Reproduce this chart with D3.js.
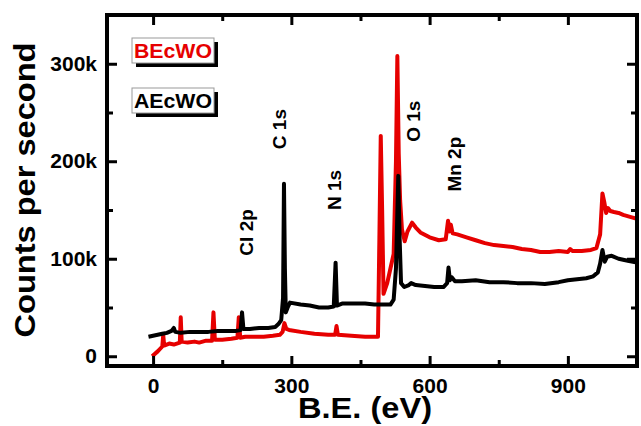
<!DOCTYPE html>
<html>
<head>
<meta charset="utf-8">
<script src="https://cdn.jsdelivr.net/npm/d3@7"></script>
<style>
  body { margin: 0; background: #fff; }
  text { font-family: Arial, "Liberation Sans", sans-serif; font-weight: bold; }
</style>
</head>
<body>
<script>
// B.E. (eV), counts (k) for each survey spectrum
var beBEcWO = [-2, 10, 20, 22, 24, 35, 45, 58, 60, 62, 75, 90, 100, 115, 128, 131, 134, 150, 170, 183, 186, 189, 200, 220, 240, 260, 275, 281, 285, 289, 295, 320, 350, 380, 395, 398, 401, 430, 460, 488, 491, 494, 497, 500, 508, 515, 522, 527, 530, 533, 536, 540, 546, 552, 562, 570, 580, 600, 620, 635, 640, 643, 646, 650, 660, 680, 700, 720, 740, 760, 780, 800, 820, 840, 860, 880, 900, 905, 910, 930, 950, 962, 970, 975, 979, 983, 987, 992, 1000, 1010, 1020, 1035, 1050];
var cpsBEcWO = [0, 5, 10, 22, 11, 13, 12, 14, 40, 15, 14, 15, 14, 16, 16, 45, 17, 17, 18, 19, 40, 19, 20, 20, 20, 21, 22, 25, 34, 28, 27, 25, 23, 22, 22, 31, 22, 21, 20, 20, 120, 226, 150, 64, 75, 90, 105, 200, 308, 208, 160, 130, 118, 128, 137, 132, 127, 122, 119, 120, 139, 128, 135, 126, 125, 122, 119, 116, 114, 113, 112, 110, 109, 107, 107, 108, 107, 110, 108, 108, 109, 111, 125, 167, 158, 147, 152, 149, 148, 147, 145, 143, 141];

var beAEcWO = [-10, 0, 10, 20, 30, 40, 45, 48, 60, 80, 100, 120, 140, 160, 180, 190, 193, 196, 210, 230, 250, 265, 272, 278, 282, 284, 286, 288, 292, 297, 320, 340, 360, 380, 392, 396, 399, 410, 430, 460, 480, 500, 515, 522, 527, 532, 535, 538, 545, 555, 560, 570, 590, 610, 630, 638, 641, 644, 648, 655, 670, 700, 730, 760, 790, 820, 850, 880, 900, 920, 940, 955, 965, 970, 975, 980, 985, 995, 1010, 1030, 1050];
var cpsAEcWO = [20, 21, 22, 23, 24, 26, 29, 25, 24, 25, 25, 25, 26, 26, 26, 27, 45, 28, 28, 29, 29, 30, 33, 37, 60, 177, 90, 45, 50, 55, 53, 52, 50, 50, 51, 96, 52, 54, 54, 54, 53, 53, 53, 58, 90, 185, 120, 75, 71, 73, 75, 73, 72, 71, 71, 75, 91, 78, 81, 77, 77, 78, 76, 76, 75, 75, 74, 76, 78, 79, 80, 82, 86, 95, 109, 97, 102, 103, 100, 98, 96];

var seriesNames = ["BEcWO", "AEcWO"];
var seriesColors = ["#e60000", "#000000"];

var xMajor = [0, 300, 600, 900];
var xMinor = [150, 450, 750];
var yMajor = [0, 100000, 200000, 300000];
var yMinor = [50000, 150000, 250000];
var yTickLabels = ["0", "100k", "200k", "300k"];

// peak labels: text, B.E. of baseline, counts at text centre
var peakText = ["Cl 2p", "C 1s", "N 1s", "O 1s", "Mn 2p"];
var peakBE = [217, 288, 407, 579, 668];
var peakCps = [127000, 233000, 170500, 241000, 197000];

var W = 641, H = 426;
var margin = {left: 107, top: 15, right: 4, bottom: 60};
var iw = W - margin.left - margin.right, ih = H - margin.top - margin.bottom;

var svg = d3.select("body").append("svg").attr("width", W).attr("height", H);
var g = svg.append("g").attr("transform", "translate(" + margin.left + "," + margin.top + ")");

var x = d3.scaleLinear().domain([-100, 1050]).range([0, iw]);
var y = d3.scaleLinear().domain([-10000, 350000]).range([ih, 0]);

var clip = svg.append("clipPath").attr("id", "clip").append("rect")
  .attr("width", iw).attr("height", ih);

var line = d3.line().x(function(d){ return x(d[0]); }).y(function(d){ return y(d[1] * 1000); });

var data = [
  d3.zip(beBEcWO, cpsBEcWO),
  d3.zip(beAEcWO, cpsAEcWO)
];

var plot = g.append("g").attr("clip-path", "url(#clip)");
data.forEach(function(d, i){
  plot.append("path").datum(d)
    .attr("d", line)
    .attr("fill", "none")
    .attr("stroke", seriesColors[i])
    .attr("stroke-width", 4)
    .attr("stroke-linejoin", "round");
});

function styleAxis(sel){
  sel.select(".domain").remove();
  sel.selectAll("line").attr("stroke", "#000").attr("stroke-width", 3);
  sel.selectAll("text").attr("fill", "#000").style("font-size", "21px");
}

g.append("g").attr("transform", "translate(0," + ih + ")")
  .call(d3.axisBottom(x).tickValues(xMajor).tickSize(-10).tickPadding(12).tickFormat(d3.format("d")))
  .call(styleAxis);
g.append("g").attr("transform", "translate(0," + ih + ")")
  .call(d3.axisBottom(x).tickValues(xMinor).tickSize(-6).tickFormat(""))
  .call(styleAxis);
g.append("g")
  .call(d3.axisTop(x).tickValues(xMajor).tickSize(-10).tickFormat(""))
  .call(styleAxis);
g.append("g")
  .call(d3.axisTop(x).tickValues(xMinor).tickSize(-6).tickFormat(""))
  .call(styleAxis);

g.append("g")
  .call(d3.axisLeft(y).tickValues(yMajor).tickSize(-10).tickPadding(10)
    .tickFormat(function(d, i){ return yTickLabels[i]; }))
  .call(styleAxis);
g.append("g")
  .call(d3.axisLeft(y).tickValues(yMinor).tickSize(-6).tickFormat(""))
  .call(styleAxis);
g.append("g").attr("transform", "translate(" + iw + ",0)")
  .call(d3.axisRight(y).tickValues(yMajor).tickSize(-10).tickFormat(""))
  .call(styleAxis);
g.append("g").attr("transform", "translate(" + iw + ",0)")
  .call(d3.axisRight(y).tickValues(yMinor).tickSize(-6).tickFormat(""))
  .call(styleAxis);

// frame
g.append("rect").attr("width", iw).attr("height", ih)
  .attr("fill", "none").attr("stroke", "#000").attr("stroke-width", 4);

// peak labels
peakText.forEach(function(t, i){
  g.append("text")
    .attr("transform", "translate(" + x(peakBE[i]) + "," + y(peakCps[i]) + ") rotate(-90)")
    .attr("text-anchor", "middle")
    .style("font-size", "19px")
    .text(t);
});

// legend boxes with drop shadow
var legend = g.append("g").attr("transform", "translate(25,23)");
seriesNames.forEach(function(name, i){
  var row = legend.append("g").attr("transform", "translate(0," + i * 50 + ")");
  row.append("rect").attr("x", 4).attr("y", 4).attr("width", 82).attr("height", 25).attr("fill", "#000");
  row.append("rect").attr("width", 82).attr("height", 25)
    .attr("fill", "#fff").attr("stroke", "#999").attr("stroke-width", 1);
  row.append("text").attr("x", 2).attr("y", 20)
    .attr("fill", seriesColors[i]).style("font-size", "21px")
    .attr("textLength", 78).attr("lengthAdjust", "spacingAndGlyphs")
    .text(name);
});

// axis titles
svg.append("text")
  .attr("x", 365).attr("y", 418)
  .attr("text-anchor", "middle")
  .style("font-size", "29px")
  .attr("textLength", 134).attr("lengthAdjust", "spacingAndGlyphs")
  .text("B.E. (eV)");

svg.append("text")
  .attr("transform", "translate(35,190) rotate(-90)")
  .attr("text-anchor", "middle")
  .style("font-size", "30px")
  .attr("textLength", 295).attr("lengthAdjust", "spacingAndGlyphs")
  .text("Counts per second");
</script>
</body>
</html>
